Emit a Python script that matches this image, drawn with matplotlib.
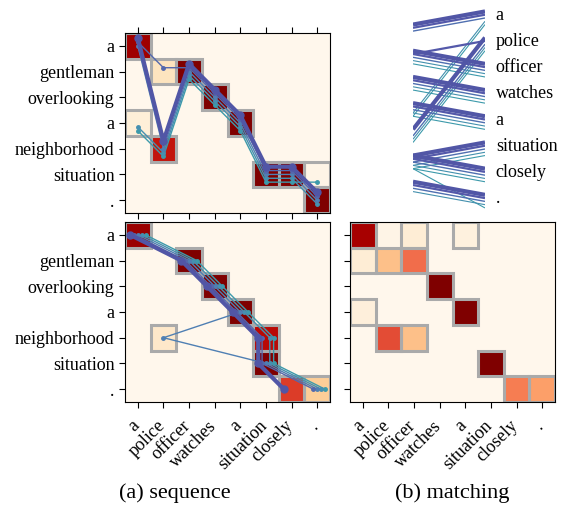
import matplotlib
matplotlib.use("Agg")
import matplotlib.pyplot as plt
import matplotlib.transforms as mtransforms
import numpy as np
from matplotlib.patches import Rectangle

plt.rcParams["font.family"] = "serif"
plt.rcParams["font.serif"] = ["Liberation Serif", "DejaVu Serif"]

SRC = ["a", "gentleman", "overlooking", "a", "neighborhood", "situation", "."]
TGT = ["a", "police", "officer", "watches", "a", "situation", "closely", "."]

# (a) sequence: attention weights, rows = source words, cols = target words
seq_vals = [
    [0.92, 0, 0, 0, 0, 0, 0, 0],
    [0, 0.15, 1.0, 0, 0, 0, 0, 0],
    [0, 0, 0, 1.0, 0, 0, 0, 0],
    [0.07, 0, 0, 0, 1.0, 0, 0, 0],
    [0, 0.82, 0, 0, 0, 0, 0, 0],
    [0, 0, 0, 0, 0, 1.0, 1.0, 0.02],
    [0, 0, 0, 0, 0, 0, 0, 1.0],
]
seq_boxes = [(0, 0), (1, 1), (1, 2), (2, 3), (3, 0), (3, 4), (4, 1),
             (5, 5), (5, 6), (5, 7), (6, 7)]
# beam paths: source row picked for each target column (beam 0 = best)
seq_paths = [
    [0, 4, 1, 2, 3, 5, 5, 6],
    [0, 1, 1, 2, 3, 5, 5, 6],
    [0, 4, 1, 2, 3, 5, 5, 6],
    [3, 4, 1, 2, 3, 5, 5, 6],
    [3, 4, 1, 2, 3, 5, 5, 5],
]

# (a) sequence, lower: rows = source words, cols = target words
seq2_vals = [
    [0.93, 0, 0, 0, 0, 0, 0, 0],
    [0, 0, 1.0, 0, 0, 0, 0, 0],
    [0, 0, 0, 1.0, 0, 0, 0, 0],
    [0, 0, 0, 0, 1.0, 0, 0, 0],
    [0, 0.12, 0, 0, 0, 0.85, 0, 0],
    [0, 0, 0, 0, 0, 1.0, 0, 0],
    [0, 0, 0, 0, 0, 0, 0.72, 0.28],
]
seq2_boxes = [(0, 0), (1, 2), (2, 3), (3, 4), (4, 1), (4, 5), (5, 5),
              (6, 6), (6, 7)]
# beam paths: target column picked for each source row
seq2_paths = [
    [0, 2, 3, 4, 5, 5, 6],
    [0, 2, 3, 4, 5, 5, 7],
    [0, 2, 3, 4, 1, 5, 7],
    [0, 2, 3, 4, 5, 5, 7],
    [0, 2, 3, 4, 5, 5, 7],
]

# (b) matching
match_vals = [
    [0.9, 0.02, 0.08, 0, 0.05, 0, 0, 0],
    [0.08, 0.35, 0.6, 0, 0, 0, 0, 0],
    [0, 0, 0, 1.0, 0, 0, 0, 0],
    [0.06, 0, 0, 0, 1.0, 0, 0, 0],
    [0, 0.68, 0.35, 0, 0, 0, 0, 0],
    [0, 0, 0, 0, 0, 1.0, 0, 0],
    [0, 0, 0, 0, 0, 0, 0.55, 0.45],
]
match_boxes = [(0, 0), (0, 2), (0, 4), (1, 0), (1, 1), (1, 2), (2, 3),
               (3, 0), (3, 4), (4, 1), (4, 2), (5, 5), (6, 6), (6, 7)]

BEAM_COLORS = ["#5156a6", "#5468ad", "#4f7fb3", "#4690b0", "#3d9aab"]
BEAM_WIDTHS = [3.0, 1.0, 1.0, 1.0, 1.0]
BEAM_OFFSETS = np.linspace(-0.3, 0.3, 5)
TR_COLORS = ["#5156a6", "#5459aa", "#4f6fb0", "#4490ae", "#3d9aab"]
TR_WIDTHS = [3.0, 1.6, 1.0, 0.8, 0.8]
BOX_COLOR = "#aaaaaa"


def draw_heat(ax, vals, boxes):
    ax.imshow(np.array(vals), cmap="OrRd", vmin=0, vmax=1, aspect="auto",
              interpolation="nearest")
    for r, c in boxes:
        ax.add_patch(Rectangle((c - 0.5, r - 0.5), 1, 1, fill=False,
                               ec=BOX_COLOR, lw=2.2, zorder=2))
    ax.set_xticks(range(len(TGT)))
    ax.set_yticks(range(len(SRC)))
    ax.set_xlim(-0.5, len(TGT) - 0.5)
    ax.set_ylim(len(SRC) - 0.5, -0.5)
    ax.tick_params(direction="out", length=4, labelsize=13)


def draw_paths_by_col(ax, paths):
    """Each path gives a source row per target column; beams offset vertically."""
    for k in reversed(range(len(paths))):
        xs = np.arange(len(paths[k]))
        ys = np.array(paths[k]) + BEAM_OFFSETS[k]
        ax.plot(xs, ys, color=BEAM_COLORS[k], lw=BEAM_WIDTHS[k], marker="o",
                ms=5 if k == 0 else 2.5, zorder=3 + (len(paths) - k))


def draw_paths_by_row(ax, paths):
    """Each path gives a target column per source row; beams offset horizontally."""
    for k in reversed(range(len(paths))):
        ys = np.arange(len(paths[k]))
        xs = np.array(paths[k]) + BEAM_OFFSETS[k]
        ax.plot(xs, ys, color=BEAM_COLORS[k], lw=BEAM_WIDTHS[k], marker="o",
                ms=5 if k == 0 else 2.5, zorder=3 + (len(paths) - k))


def rotated_xlabels(ax, fig):
    ax.set_xticklabels(TGT, rotation=45, ha="right", va="top",
                       rotation_mode="anchor")
    shift = mtransforms.ScaledTranslation(-7 / 100, -5 / 100,
                                          fig.dpi_scale_trans)
    for lab in ax.get_xticklabels():
        lab.set_transform(lab.get_transform() + shift)


W, H = 568, 507
fig = plt.figure(figsize=(W / 100, H / 100), dpi=100)


def px_axes(x0, y0, x1, y1):
    return fig.add_axes([x0 / W, 1 - y1 / H, (x1 - x0) / W, (y1 - y0) / H])


ax_tl = px_axes(125, 33, 330, 213)
ax_bl = px_axes(125, 222, 330, 402)
ax_br = px_axes(350, 222, 555, 402)
ax_tr = px_axes(413, 5, 485, 212)

# top-left
draw_heat(ax_tl, seq_vals, seq_boxes)
draw_paths_by_col(ax_tl, seq_paths)
ax_tl.set_yticklabels(SRC)
ax_tl.set_xticklabels([])
ax_tl.tick_params(axis="x", top=True)

# bottom-left
draw_heat(ax_bl, seq2_vals, seq2_boxes)
draw_paths_by_row(ax_bl, seq2_paths)
ax_bl.set_yticklabels(SRC)
rotated_xlabels(ax_bl, fig)

# bottom-right
draw_heat(ax_br, match_vals, match_boxes)
ax_br.set_yticklabels([])
rotated_xlabels(ax_br, fig)

# top-right: source slots on the left, target words on the right
TR_OFFSETS = np.linspace(-0.25, 0.25, 5)
for k in reversed(range(len(seq_paths))):
    for j, src in enumerate(seq_paths[k]):
        ax_tr.plot([0, 1], [src + 0.5 + TR_OFFSETS[k], j + TR_OFFSETS[k]],
                   color=TR_COLORS[k], lw=TR_WIDTHS[k],
                   solid_capstyle="butt")
ax_tr.set_xlim(0, 1)
ax_tr.set_ylim((212 - 18) / 26.2, (5 - 18) / 26.2)
for j, word in enumerate(TGT):
    ax_tr.text(1.15, j - 0.1, word, ha="left", va="center", fontsize=13,
               clip_on=False)
ax_tr.axis("off")

fig.text(175 / W, 1 - 493 / H, "(a) sequence", ha="center", va="center",
         fontsize=16)
fig.text(452 / W, 1 - 493 / H, "(b) matching", ha="center", va="center",
         fontsize=16)

fig.savefig("out.png", dpi=100)
